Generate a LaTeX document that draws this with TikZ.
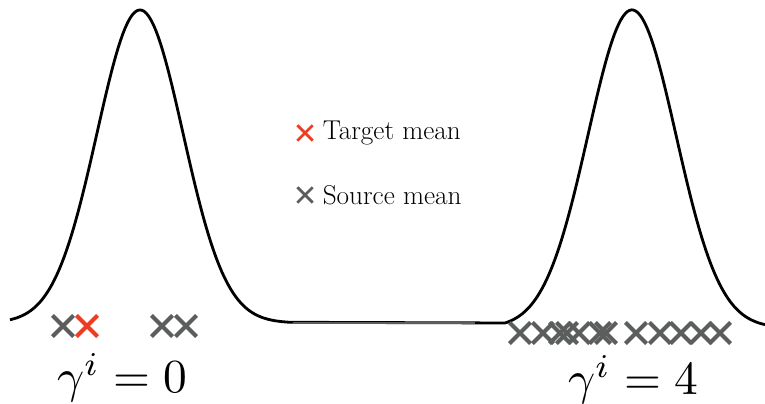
\documentclass[tikz,border=0pt]{standalone}
\usepackage{amsmath}
\usepackage{tikz}
\usetikzlibrary{shapes.misc, positioning}

\definecolor{tgtred}{HTML}{EE3B24}
\definecolor{srcgray}{HTML}{5B5E5D}

\begin{document}
\begin{tikzpicture}[
        x=0.02cm, y=0.02cm,
        density/.style={draw=black, line width=1.6pt, line join=round},
        midline/.style={draw=srcgray, line width=1.5pt},
        srcmark/.style={draw=srcgray, cross out, line width=2.3pt, minimum size=0.34cm, inner sep=0pt},
        tgtmark/.style={srcmark, draw=tgtred},
        keymark/.style={cross out, line width=1.6pt, minimum size=0.25cm, inner sep=0pt},
        legend/.style={inner sep=1pt, font=\fontsize{15.5}{18}\selectfont},
        gammalabel/.style={anchor=base, inner sep=0pt, scale=2.7}
    ]
        \useasboundingbox (0,0) rectangle (765,404);

        % Densities
        \draw [density] plot[domain=10:290, samples=120] (\x, {81+313*exp(-((\x-140)/43)^2/2)})
            -- (505, 81)
            -- plot[domain=505:765, samples=120] (\x, {81+318*(exp(-((\x-632)/44)^2/2)-0.0155)});
        \coordinate (midstart) at (293, 81);
        \coordinate (midend) at (475, 81);
        \draw [midline] (midstart) -- (midend);

        % Means, gamma = 0
        \node (s1) [srcmark] at (63, 78) {};
        \node (t1) [tgtmark] at (87, 78) {};
        \node (s2) [srcmark] at (162, 78) {};
        \node (s3) [srcmark] at (186, 78) {};

        % Means, gamma = 4
        \foreach \px [count=\i] in {520, 543, 560, 567, 579, 600, 606, 636, 660, 681, 701, 720}
            \node (r\i) [srcmark] at (\px, 71) {};

        % Legend
        \node (tgtkey) [keymark, draw=tgtred] at (305, 271) {};
        \node (tgtlabel) [legend, right=0.16cm of tgtkey] {Target mean};
        \node (srckey) [keymark, draw=srcgray] at (305, 209) {};
        \node (srclabel) [legend, right=0.16cm of srckey] {Source mean};

        % Labels
        \node (gamma0) [gammalabel] at (122, 11) {$\gamma^i = 0$};
        \node (gamma4) [gammalabel] at (633, 9) {$\gamma^i = 4$};
    \end{tikzpicture}
\end{document}
